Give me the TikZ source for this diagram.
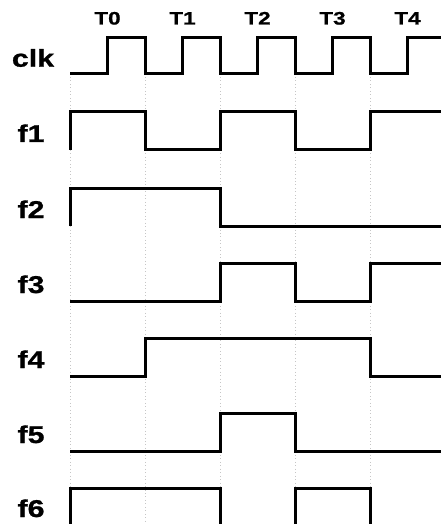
\documentclass[tikz,border=0pt]{standalone}
\usepackage{fontspec}
\setmainfont{Liberation Sans}[FakeStretch=1.25, BoldFeatures={FakeBold=1}]
\usetikzlibrary{positioning}

\begin{document}
\begin{tikzpicture}[
    x=0.75pt, y=-0.75pt,
    wave/.style={line width=2.25pt, line join=miter},
    guide/.style={gray!45, dotted, line width=0.6pt},
    sig/.style={font=\bfseries\fontsize{18.2}{18}\selectfont, anchor=base, inner sep=0pt},
    tlabel/.style={font=\bfseries\fontsize{13.5}{13}\selectfont, anchor=base, inner sep=0pt},
]

    \useasboundingbox (0,0) rectangle (441,524);

    % Cycle guide lines
    \foreach \x in {70,145,...,370}
        \draw[guide] (\x,77) -- (\x,524);

    % Cycle labels
    \foreach \i in {0,...,4}
        \node[tlabel] (t\i) at ({107.5+75*\i},24.5) {T\i};

    % Signal names
    \node[sig] (clk) at (33,66.7) {clk};
    \node[sig] (f1) at (31,142) {f1};
    \node[sig] (f2) at (31,218) {f2};
    \node[sig] (f3) at (31,293) {f3};
    \node[sig] (f4) at (31,368) {f4};
    \node[sig] (f5) at (31,443) {f5};
    \node[sig] (f6) at (31,517) {f6};

    % Clock
    \draw[wave] (70,74) \foreach \i in {0,...,3} {
        -- ++(37.5,0) -- ++(0,-36) -- ++(37.5,0) -- ++(0,36)
    } -- ++(37.5,0) -- ++(0,-36) -- (441,38);

    % f1
    \draw[wave] (70,150) -- (70,112) -- (145,112) -- (145,150) -- (220,150)
        -- (220,112) -- (295,112) -- (295,150) -- (370,150) -- (370,112) -- (441,112);

    % f2
    \draw[wave] (70,226) -- (70,188) -- (220,188) -- (220,226) -- (441,226);

    % f3
    \draw[wave] (70,301) -- (220,301) -- (220,263) -- (295,263) -- (295,301)
        -- (370,301) -- (370,263) -- (441,263);

    % f4
    \draw[wave] (70,376) -- (145,376) -- (145,338) -- (370,338) -- (370,376) -- (441,376);

    % f5
    \draw[wave] (70,451) -- (220,451) -- (220,413) -- (295,413) -- (295,451) -- (441,451);

    % f6
    \draw[wave] (70,524) -- (70,488) -- (220,488) -- (220,524);
    \draw[wave] (295,524) -- (295,488) -- (370,488) -- (370,524);

\end{tikzpicture}
\end{document}
